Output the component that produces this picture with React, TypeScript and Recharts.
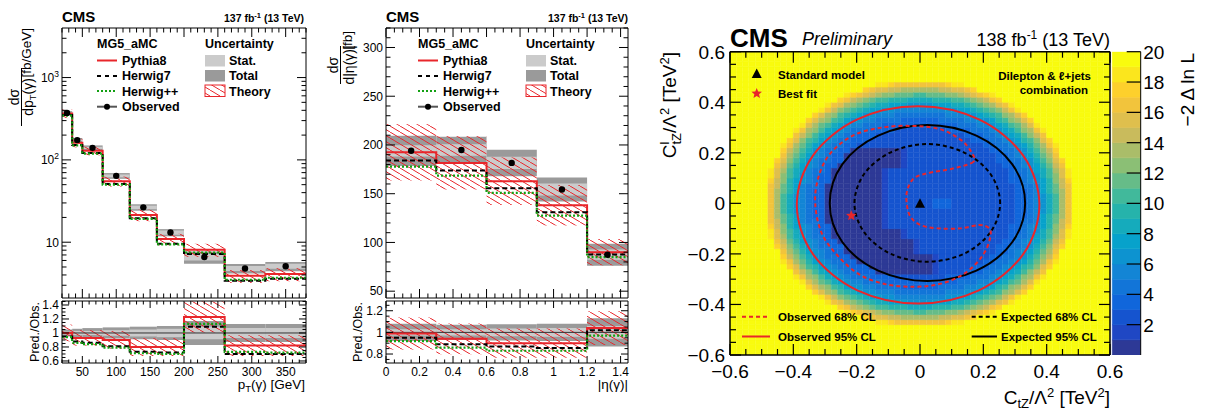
import React from 'react'
import {
  ComposedChart,
  Line,
  Scatter,
  Bar,
  Cell,
  XAxis,
  YAxis,
  ReferenceArea,
  ReferenceLine,
} from 'recharts'

const W = 1207
const H = 412
const FONT = '"Liberation Sans", Arial, Helvetica, sans-serif'
const RED = '#e8262b'
const GREEN = '#12a012'
const STAT = '#cbcbcb'
const TOTAL = '#9a9a9a'

// ---- pT(gamma) distribution: bin edges [GeV], values per bin [fb/GeV]
const ptEdges = [20, 35, 50, 80, 120, 160, 200, 260, 320, 380]
const ptObserved = [372, 174, 140, 64, 26.5, 13.1, 6.6, 4.8, 5.1]
const ptPythia8 = [366, 161, 129, 55, 21.4, 10.9, 8.1, 3.9, 4.1]
const ptHerwig7 = [352, 152, 121, 51, 19.6, 9.6, 7.2, 3.4, 3.6]
const ptHerwigPP = [345, 150, 119, 50, 19.2, 9.4, 7.5, 3.5, 3.7]
const ptStatRel = [0.02, 0.03, 0.03, 0.04, 0.05, 0.06, 0.09, 0.07, 0.07]
const ptTotalRel = [0.05, 0.06, 0.07, 0.08, 0.09, 0.1, 0.17, 0.13, 0.13]
const ptTheoryRel = [0.12, 0.12, 0.12, 0.14, 0.16, 0.16, 0.18, 0.18, 0.18]
const ptRatioPythia8 = [1.0, 0.93, 0.93, 0.9, 0.8, 0.8, 1.23, 0.82, 0.82]
const ptRatioHerwig7 = [0.95, 0.88, 0.86, 0.81, 0.73, 0.72, 1.09, 0.7, 0.7]
const ptRatioHerwigPP = [0.94, 0.86, 0.84, 0.79, 0.71, 0.7, 1.13, 0.73, 0.72]

// ---- |eta(gamma)| distribution: bin edges, values per bin [fb]
const etaEdges = [0, 0.3, 0.6, 0.9, 1.2, 1.4442]
const etaObserved = [194, 194.8, 181.6, 154.3, 87.4]
const etaPythia8 = [192.5, 181.6, 162.8, 138.2, 90]
const etaHerwig7 = [184, 173.7, 155.6, 131, 87.7]
const etaHerwigPP = [177.8, 168.6, 150.9, 127.6, 85]
const etaStatRel = [0.03, 0.03, 0.035, 0.04, 0.06]
const etaTotalRel = [0.08, 0.07, 0.075, 0.08, 0.13]
const etaTheoryRel = [0.15, 0.15, 0.15, 0.15, 0.15]
const etaRatioPythia8 = [0.99, 0.94, 0.9, 0.9, 1.04]
const etaRatioHerwig7 = [0.95, 0.89, 0.87, 0.855, 1.02]
const etaRatioHerwigPP = [0.92, 0.86, 0.83, 0.83, 0.97]

// ---- -2 Delta ln L scan: 60 x 60 cells of 0.02, rows from top (C^l_tZ = 0.59) down.
// One character per cell = colour band (0..9, a..j -> 0..19). Each row is "left|right"
// around C_tZ = 0; cells not written at the outer ends are >= 19 (yellow).
const scanBandColors = [
  '#2d3996', '#1f47c4', '#1554cf', '#1066db', '#1275d8', '#1385d5', '#0d93d0', '#07a2cb', '#15abbc', '#26b3ab',
  '#41b99b', '#66bc88', '#8bbf75', '#aabd69', '#c9bb5c', '#dfbf4d', '#f2c43c', '#fdd02c', '#fbe61d', '#f9fb0e',
]
const scanRows = [
  '|', '|', '|', '|', '|', '|',
  'iihgggg|gggghii',
  'hgffeeddd|dddeeffgh',
  'ihgfedccbbba|abbbccdefghi',
  'hgedcbaa99988|88999aabcdegh',
  'igfdcba98877766|66777889abcdfgi',
  'igecba9877665555|5555667789abcegi',
  'hfdca987665554444|444455566789acdfh',
  'hfdca9766554444333|3334444556679acdfh',
  'ifdba87655444333333|33333344455678abdfi',
  'igdca876544433332222|222233334445678acdgi',
  'geca8765443332222222|2222222333445678aceg',
  'hfca97654433322222222|22222222333445679acfh',
  'igdb976544332222222222|222222222233445679bdgi',
  'heca865443300000000122|222222222223344568aceh',
  'gdb9765433000000000122|2222222222223345679bdg',
  'hfca8654433000000000122|2222222222223344568acfh',
  'geb97654330000000000122|22222222222223345679beg',
  'ifda87544300000000122222|22222222222222344578adfi',
  'ifca86543300000000122222|22222222222222334568acfi',
  'hec976543300000000122222|222222222222223345679ceh',
  'geb975443000000000122222|222222222222222344579beg',
  'gdb975433000000000122222|222222222222222334579bdg',
  'gda865433000000000122222|222222222222222334568adg',
  'gda865433000000000122222|223332222222222334568adg',
  'gda865433000000000122222|223332222222222334568adg',
  'gda865433000000000122222|222222222222222334568adg',
  'gdb975433000000000122222|222222222222222334579bdg',
  'geb975443000000000122222|222222222222222344579beg',
  'hec976543300000000122222|222222222222223345679ceh',
  'ifca86543300000000000122|22222222222222334568acfi',
  'ifda87544300000000000122|22222222222222344578adfi',
  'geb97654330000000000001|22222222222223345679beg',
  'hfca8654433000000000001|2222222222223344568acfh',
  'gdb9765433000000000001|2222222222223345679bdg',
  'heca865443300000000000|001222222223344568aceh',
  'igdb976544330000000000|001222222233445679bdgi',
  'hfca97654433300000000|00122222333445679acfh',
  'geca8765443330000000|0012222333445678aceg',
  'igdca876544433332222|222233334445678acdgi',
  'ifdba87655444333333|33333344455678abdfi',
  'hfdca9766554444333|3334444556679acdfh',
  'hfdca987665554444|444455566789acdfh',
  'igecba9877665555|5555667789abcegi',
  'igfdcba98877766|66777889abcdfgi',
  'hgedcbaa99988|88999aabcdegh',
  'ihgfedccbbba|abbbccdefghi',
  'hgffeeddd|dddeeffgh',
  'iihgggg|gggghii',
  '|', '|', '|', '|', '|', '|',
]
// contours (C_tZ, C^l_tZ)
const observed95 = [
  { x: 0.377, y: -0.006 }, { x: 0.326, y: 0.189 }, { x: 0.186, y: 0.332 }, { x: -0.006, y: 0.384 },
  { x: -0.198, y: 0.332 }, { x: -0.338, y: 0.189 }, { x: -0.389, y: -0.006 }, { x: -0.338, y: -0.201 },
  { x: -0.198, y: -0.344 }, { x: -0.006, y: -0.396 }, { x: 0.186, y: -0.344 }, { x: 0.326, y: -0.201 },
]
const expected95 = [
  { x: 0.332, y: 0 }, { x: 0.291, y: 0.155 }, { x: 0.178, y: 0.268 }, { x: 0.023, y: 0.31 },
  { x: -0.132, y: 0.268 }, { x: -0.245, y: 0.155 }, { x: -0.285, y: 0 }, { x: -0.245, y: -0.154 },
  { x: -0.132, y: -0.266 }, { x: 0.023, y: -0.307 }, { x: 0.178, y: -0.266 }, { x: 0.291, y: -0.154 },
]
const expected68 = [
  { x: 0.253, y: 0 }, { x: 0.222, y: 0.117 }, { x: 0.138, y: 0.202 }, { x: 0.023, y: 0.235 },
  { x: -0.092, y: 0.202 }, { x: -0.176, y: 0.117 }, { x: -0.207, y: 0 }, { x: -0.176, y: -0.115 },
  { x: -0.092, y: -0.2 }, { x: 0.023, y: -0.231 }, { x: 0.138, y: -0.2 }, { x: 0.222, y: -0.115 },
]
const observed68 = [
  { x: 0.169, y: 0.165 }, { x: 0.108, y: 0.139 }, { x: 0.023, y: 0.119 }, { x: -0.019, y: 0.099 },
  { x: -0.04, y: 0.053 }, { x: -0.042, y: 0 }, { x: -0.03, y: -0.053 }, { x: 0.002, y: -0.086 },
  { x: 0.055, y: -0.099 }, { x: 0.129, y: -0.099 }, { x: 0.187, y: -0.086 }, { x: 0.219, y: -0.099 },
  { x: 0.222, y: -0.132 }, { x: 0.208, y: -0.185 }, { x: 0.176, y: -0.24 }, { x: 0.124, y: -0.29 },
  { x: 0.055, y: -0.321 }, { x: -0.019, y: -0.33 }, { x: -0.104, y: -0.321 }, { x: -0.188, y: -0.284 },
  { x: -0.257, y: -0.211 }, { x: -0.31, y: -0.119 }, { x: -0.331, y: 0 }, { x: -0.32, y: 0.106 },
  { x: -0.283, y: 0.198 }, { x: -0.209, y: 0.27 }, { x: -0.114, y: 0.301 }, { x: -0.019, y: 0.306 },
  { x: 0.065, y: 0.293 }, { x: 0.129, y: 0.251 }, { x: 0.161, y: 0.205 },
]
const standardModel = [{ x: 0, y: 0 }]
const bestFit = [{ x: -0.217, y: -0.049 }]

// ---- ticks
const range = (a: number, b: number, s: number) => {
  const out: number[] = []
  for (let v = a; v <= b + 1e-9; v += s) out.push(Math.round(v * 1e6) / 1e6)
  return out
}
const ptMajor = [50, 100, 150, 200, 250, 300, 350]
const ptTicks = range(20, 380, 10)
const ptXsecMajor = [10, 100, 1000]
const ptXsecTicks = [3, 4, 5, 6, 7, 8, 9, 10, 20, 30, 40, 50, 60, 70, 80, 90, 100, 200, 300, 400, 500, 600, 700, 800, 900, 1000, 2000, 3000]
const ptRatioMajor = [0.6, 0.8, 1, 1.2, 1.4]
const ptRatioTicks = range(0.6, 1.45, 0.05)
const etaMajor = [0, 0.2, 0.4, 0.6, 0.8, 1, 1.2, 1.4]
const etaTicks = range(0, 1.4, 0.05)
const etaXsecMajor = [50, 100, 150, 200, 250, 300]
const etaXsecTicks = range(50, 320, 10)
const etaRatioMajor = [0.8, 1, 1.2]
const etaRatioTicks = range(0.75, 1.25, 0.05)
const cMajor = [-0.6, -0.4, -0.2, 0, 0.2, 0.4, 0.6]
const cTicks = range(-0.6, 0.6, 0.05)
const zTicks = [2, 4, 6, 8, 10, 12, 14, 16, 18, 20]

type Box = { left: number; right: number; top: number; bottom: number }
const ptTopBox: Box = { left: 62, right: 306, top: 28, bottom: 298 }
const ptRatioBox: Box = { left: 62, right: 306, top: 301, bottom: 363 }
const etaTopBox: Box = { left: 386, right: 628, top: 28, bottom: 298 }
const etaRatioBox: Box = { left: 386, right: 628, top: 301, bottom: 363 }
const scanBox: Box = { left: 730, right: 1110, top: 51.7, bottom: 355 }
const zBox: Box = { left: 1112.3, right: 1140.7, top: 51.7, bottom: 355 }

const layer: React.CSSProperties = { position: 'absolute', left: 0, top: 0 }
const marginFor = (b: Box) => ({ left: b.left - 1, right: W - b.right - 1, top: b.top - 1, bottom: H - b.bottom - 1 })

type Side = 'bottom' | 'top' | 'left' | 'right'
type TickOpts = {
  majors: number[]
  len: [number, number]
  label?: (v: number) => React.ReactNode
  gap?: number
  size?: number
  width?: number
}

function tickFn(side: Side, o: TickOpts) {
  return (props: any) => {
    const { x, y, payload } = props
    const v = payload.value
    const major = o.majors.some((m) => Math.abs(m - v) < 1e-6)
    const l = major ? o.len[0] : o.len[1]
    const d = side === 'bottom' ? [0, -l] : side === 'top' ? [0, l] : side === 'left' ? [l, 0] : [-l, 0]
    const fs = o.size ?? 12
    const gap = o.gap ?? 4
    let label: React.ReactNode = null
    if (major && o.label) {
      const c = o.label(v)
      const tp = { fontSize: fs, fontFamily: FONT, fill: '#000' }
      if (side === 'bottom') label = <text x={x} y={y + gap + fs * 0.72} textAnchor="middle" {...tp}>{c}</text>
      else if (side === 'left') label = <text x={x - gap} y={y + fs * 0.36} textAnchor="end" {...tp}>{c}</text>
      else if (side === 'right') label = <text x={x + gap} y={y + fs * 0.36} textAnchor="start" {...tp}>{c}</text>
    }
    return (
      <g>
        <line x1={x} y1={y} x2={x + d[0]} y2={y + d[1]} stroke="#000" strokeWidth={o.width ?? 1} />
        {label}
      </g>
    )
  }
}

type FrameOpts = {
  xDomain: [number, number]
  yDomain: [number, number]
  yLog?: boolean
  xTicks: number[]
  yTicks: number[]
  bottom: TickOpts
  top: TickOpts
  left: TickOpts
  right: TickOpts
  lineWidth?: number
}

function frameAxes(f: FrameOpts) {
  const common = {
    tickSize: 0,
    tickMargin: 0,
    tickLine: false,
    axisLine: { stroke: '#000', strokeWidth: f.lineWidth ?? 1 },
    interval: 0 as const,
    allowDataOverflow: true,
  }
  const yScale = f.yLog ? 'log' : 'auto'
  return [
    <XAxis key="xb" xAxisId="b" orientation="bottom" type="number" dataKey="x" domain={f.xDomain} ticks={f.xTicks} height={1} tick={tickFn('bottom', f.bottom)} {...common} />,
    <XAxis key="xt" xAxisId="t" orientation="top" type="number" dataKey="x" domain={f.xDomain} ticks={f.xTicks} height={1} tick={tickFn('top', f.top)} {...common} />,
    <YAxis key="yl" yAxisId="l" orientation="left" type="number" scale={yScale as any} domain={f.yDomain} ticks={f.yTicks} width={1} tick={tickFn('left', f.left)} {...common} />,
    <YAxis key="yr" yAxisId="r" orientation="right" type="number" scale={yScale as any} domain={f.yDomain} ticks={f.yTicks} width={1} tick={tickFn('right', f.right)} {...common} />,
  ]
}

function hatchPattern(id: string) {
  return (
    <pattern id={id} patternUnits="userSpaceOnUse" width={10} height={6}>
      <line x1={-1} y1={-0.6} x2={11} y2={6.6} stroke={RED} strokeWidth={1} />
    </pattern>
  )
}

function stepRows(edges: number[], series: Record<string, number[]>) {
  return edges.map((x, i) => {
    const row: Record<string, number> = { x }
    Object.keys(series).forEach((k) => {
      const vals = series[k]
      row[k] = vals[Math.min(i, vals.length - 1)]
    })
    return row
  })
}

// closed Catmull-Rom curve for the contour lines
function closedCurve(context: any) {
  let pts: number[][] = []
  return {
    areaStart() {},
    areaEnd() {},
    lineStart() {
      pts = []
    },
    point(x: number, y: number) {
      pts.push([x, y])
    },
    lineEnd() {
      const n = pts.length
      if (n < 3) return
      const p = (k: number) => pts[(k + n) % n]
      context.moveTo(p(0)[0], p(0)[1])
      for (let k = 0; k < n; k++) {
        const p0 = p(k - 1)
        const p1 = p(k)
        const p2 = p(k + 1)
        const p3 = p(k + 2)
        context.bezierCurveTo(
          p1[0] + (p2[0] - p0[0]) / 6, p1[1] + (p2[1] - p0[1]) / 6,
          p2[0] - (p3[0] - p1[0]) / 6, p2[1] - (p3[1] - p1[1]) / 6,
          p2[0], p2[1],
        )
      }
      context.closePath()
    },
  }
}

const dotShape = (props: any) => <circle cx={props.cx} cy={props.cy} r={3.2} fill="#000" />

const powLabel = (v: number) => {
  if (v === 10) return '10'
  const e = Math.round(Math.log10(v))
  return (
    <>
      10<tspan dy={-5} fontSize={8.5}>{e}</tspan>
    </>
  )
}
const plainLabel = (v: number) => (Math.abs(v - Math.round(v)) < 1e-9 ? String(Math.round(v)) : v.toFixed(1))
const signedLabel = (v: number) => (Math.abs(v) < 1e-9 ? '0' : v.toFixed(1).replace('-', '\u2212'))

type SpectrumProps = {
  edges: number[]
  observed: number[]
  pythia: number[]
  herwig7: number[]
  herwigpp: number[]
  stat: number[]
  total: number[]
  theory: number[]
  box: Box
  xDomain: [number, number]
  yDomain: [number, number]
  yLog?: boolean
  xTicks: number[]
  xMajor: number[]
  yTicks: number[]
  yMajor: number[]
  yLabel: (v: number) => React.ReactNode
  hatchId: string
}

function SpectrumPanel(p: SpectrumProps) {
  const rows = stepRows(p.edges, { py: p.pythia, h7: p.herwig7, hp: p.herwigpp })
  const points = p.observed.map((v, i) => ({ x: (p.edges[i] + p.edges[i + 1]) / 2, y: v }))
  const ax = { xAxisId: 'b', yAxisId: 'l' }
  return (
    <div style={layer}>
      <ComposedChart width={W} height={H} data={rows} margin={marginFor(p.box)}>
        <defs>{hatchPattern(p.hatchId)}</defs>
        {frameAxes({
          xDomain: p.xDomain,
          yDomain: p.yDomain,
          yLog: p.yLog,
          xTicks: p.xTicks,
          yTicks: p.yTicks,
          bottom: { majors: p.xMajor, len: [9, 4.5] },
          top: { majors: p.xMajor, len: [9, 4.5] },
          left: { majors: p.yMajor, len: [9, 4.5], label: p.yLabel, gap: 3 },
          right: { majors: p.yMajor, len: [9, 4.5] },
        })}
        {p.observed.map((v, i) => (
          <ReferenceArea key={'t' + i} {...ax} x1={p.edges[i]} x2={p.edges[i + 1]} y1={v * (1 - p.total[i])} y2={v * (1 + p.total[i])} fill={TOTAL} fillOpacity={1} stroke="none" ifOverflow="hidden" />
        ))}
        {p.observed.map((v, i) => (
          <ReferenceArea key={'s' + i} {...ax} x1={p.edges[i]} x2={p.edges[i + 1]} y1={v * (1 - p.stat[i])} y2={v * (1 + p.stat[i])} fill={STAT} fillOpacity={1} stroke="none" ifOverflow="hidden" />
        ))}
        {p.pythia.map((v, i) => (
          <ReferenceArea key={'h' + i} {...ax} x1={p.edges[i]} x2={p.edges[i + 1]} y1={v * (1 - p.theory[i])} y2={v * (1 + p.theory[i])} fill={`url(#${p.hatchId})`} fillOpacity={1} stroke="none" ifOverflow="hidden" />
        ))}
        <Line {...ax} dataKey="py" type="stepAfter" stroke={RED} strokeWidth={2} dot={false} activeDot={false} isAnimationActive={false} />
        <Line {...ax} dataKey="h7" type="stepAfter" stroke="#000" strokeWidth={2} strokeDasharray="5 3" dot={false} activeDot={false} isAnimationActive={false} />
        <Line {...ax} dataKey="hp" type="stepAfter" stroke={GREEN} strokeWidth={2.2} strokeDasharray="2 2" dot={false} activeDot={false} isAnimationActive={false} />
        <Scatter {...ax} data={points} dataKey="y" shape={dotShape} isAnimationActive={false} />
      </ComposedChart>
    </div>
  )
}

type RatioProps = {
  edges: number[]
  pythia: number[]
  herwig7: number[]
  herwigpp: number[]
  stat: number[]
  total: number[]
  theory: number[]
  box: Box
  xDomain: [number, number]
  yDomain: [number, number]
  xTicks: number[]
  xMajor: number[]
  xLabel: (v: number) => React.ReactNode
  yTicks: number[]
  yMajor: number[]
  hatchId: string
}

function RatioPanel(p: RatioProps) {
  const rows = stepRows(p.edges, { py: p.pythia, h7: p.herwig7, hp: p.herwigpp })
  const ax = { xAxisId: 'b', yAxisId: 'l' }
  return (
    <div style={layer}>
      <ComposedChart width={W} height={H} data={rows} margin={marginFor(p.box)}>
        <defs>{hatchPattern(p.hatchId)}</defs>
        {frameAxes({
          xDomain: p.xDomain,
          yDomain: p.yDomain,
          xTicks: p.xTicks,
          yTicks: p.yTicks,
          bottom: { majors: p.xMajor, len: [7, 3.5], label: p.xLabel, gap: 4 },
          top: { majors: p.xMajor, len: [7, 3.5] },
          left: { majors: p.yMajor, len: [7, 3.5], label: plainLabel, gap: 3 },
          right: { majors: p.yMajor, len: [7, 3.5] },
        })}
        {p.total.map((t, i) => (
          <ReferenceArea key={'t' + i} {...ax} x1={p.edges[i]} x2={p.edges[i + 1]} y1={1 - t} y2={1 + t} fill={TOTAL} fillOpacity={1} stroke="none" ifOverflow="hidden" />
        ))}
        {p.stat.map((s, i) => (
          <ReferenceArea key={'s' + i} {...ax} x1={p.edges[i]} x2={p.edges[i + 1]} y1={1 - s} y2={1 + s} fill={STAT} fillOpacity={1} stroke="none" ifOverflow="hidden" />
        ))}
        <ReferenceLine {...ax} y={1} stroke="#333" strokeWidth={1} />
        {p.pythia.map((v, i) => (
          <ReferenceArea key={'h' + i} {...ax} x1={p.edges[i]} x2={p.edges[i + 1]} y1={v * (1 - p.theory[i])} y2={v * (1 + p.theory[i])} fill={`url(#${p.hatchId})`} fillOpacity={1} stroke="none" ifOverflow="hidden" />
        ))}
        <Line {...ax} dataKey="py" type="stepAfter" stroke={RED} strokeWidth={2} dot={false} activeDot={false} isAnimationActive={false} />
        <Line {...ax} dataKey="h7" type="stepAfter" stroke="#000" strokeWidth={2} strokeDasharray="5 3" dot={false} activeDot={false} isAnimationActive={false} />
        <Line {...ax} dataKey="hp" type="stepAfter" stroke={GREEN} strokeWidth={2.2} strokeDasharray="2 2" dot={false} activeDot={false} isAnimationActive={false} />
      </ComposedChart>
    </div>
  )
}

function starPath(cx: number, cy: number, R: number) {
  let d = ''
  for (let k = 0; k < 10; k++) {
    const r = k % 2 === 0 ? R : R * 0.45
    const a = -Math.PI / 2 + (k * Math.PI) / 5
    d += (k === 0 ? 'M' : 'L') + (cx + r * Math.cos(a)).toFixed(2) + ' ' + (cy + r * Math.sin(a)).toFixed(2)
  }
  return d + 'Z'
}

const triangleShape = (props: any) => (
  <polygon points={`${props.cx - 5},${props.cy + 4.5} ${props.cx + 5},${props.cy + 4.5} ${props.cx},${props.cy - 5}`} fill="#000" />
)
const starShape = (props: any) => <path d={starPath(props.cx, props.cy, 5.5)} fill={RED} />

const SCAN_HALF = 30
// decode "left|right" rows into full rows of band characters
const scanGrid = scanRows.map((r) => {
  const [l, rr] = r.split('|')
  return (l.padStart(SCAN_HALF, 'j') + rr.padEnd(SCAN_HALF, 'j')).slice(0, 2 * SCAN_HALF)
})

function ScanPanel() {
  const nRows = scanGrid.length
  const columns = Array.from({ length: 2 * SCAN_HALF }, (_, i) => {
    const o: Record<string, number> = { col: i }
    for (let k = 0; k < nRows; k++) o['r' + k] = 1
    return o
  })
  const ax = { xAxisId: 'b', yAxisId: 'l' }
  return (
    <div style={layer}>
      <ComposedChart width={W} height={H} data={columns} margin={marginFor(scanBox)} barCategoryGap={0} barGap={0}>
        {frameAxes({
          xDomain: [-0.6, 0.6],
          yDomain: [-0.6, 0.6],
          xTicks: cTicks,
          yTicks: cTicks,
          lineWidth: 1.5,
          bottom: { majors: cMajor, len: [11, 6], label: signedLabel, gap: 9.5, size: 19, width: 1.2 },
          top: { majors: cMajor, len: [11, 6], width: 1.2 },
          left: { majors: cMajor, len: [11, 6], label: signedLabel, gap: 5, size: 19, width: 1.2 },
          right: { majors: cMajor, len: [11, 6], width: 1.2 },
        })}
        <XAxis xAxisId="cell" dataKey="col" type="category" orientation="top" height={0} hide />
        <YAxis yAxisId="cell" type="number" domain={[0, nRows]} orientation="right" width={0} hide allowDataOverflow />
        {scanGrid.map((_, k) => {
          const row = scanGrid[nRows - 1 - k]
          return (
            <Bar key={'r' + k} xAxisId="cell" yAxisId="cell" dataKey={'r' + k} stackId="scan" isAnimationActive={false}>
              {row.split('').map((ch, i) => {
                const c = scanBandColors[Math.min(19, parseInt(ch, 36))]
                return <Cell key={i} fill={c} stroke={c} strokeWidth={0.6} />
              })}
            </Bar>
          )
        })}
        <Line {...ax} data={observed95} dataKey="y" type={closedCurve as any} stroke={RED} strokeWidth={2} dot={false} activeDot={false} isAnimationActive={false} />
        <Line {...ax} data={expected95} dataKey="y" type={closedCurve as any} stroke="#000" strokeWidth={2} dot={false} activeDot={false} isAnimationActive={false} />
        <Line {...ax} data={expected68} dataKey="y" type={closedCurve as any} stroke="#000" strokeWidth={2} strokeDasharray="4 3" dot={false} activeDot={false} isAnimationActive={false} />
        <Line {...ax} data={observed68} dataKey="y" type={closedCurve as any} stroke={RED} strokeWidth={2} strokeDasharray="4 3" dot={false} activeDot={false} isAnimationActive={false} />
        <Scatter {...ax} data={standardModel} dataKey="y" shape={triangleShape} isAnimationActive={false} />
        <Scatter {...ax} data={bestFit} dataKey="y" shape={starShape} isAnimationActive={false} />
      </ComposedChart>
    </div>
  )
}

function ColorBar() {
  const row: Record<string, number | string> = { name: 'z' }
  scanBandColors.forEach((_, k) => {
    row['b' + k] = 1
  })
  return (
    <div style={layer}>
      <ComposedChart width={W} height={H} data={[row]} margin={{ left: zBox.left, right: W - zBox.right - 1, top: zBox.top, bottom: H - zBox.bottom }} barCategoryGap={0} barGap={0}>
        <XAxis xAxisId="c" dataKey="name" type="category" height={0} hide />
        <YAxis
          yAxisId="z"
          orientation="right"
          type="number"
          domain={[0, 20]}
          ticks={zTicks}
          interval={0}
          width={1}
          tickSize={0}
          tickMargin={0}
          tickLine={false}
          axisLine={{ stroke: '#000', strokeWidth: 1 }}
          allowDataOverflow
          tick={tickFn('right', { majors: zTicks, len: [14, 14], label: plainLabel, gap: 2.5, size: 19, width: 1.2 })}
        />
        {scanBandColors.map((c, k) => (
          <Bar key={k} xAxisId="c" yAxisId="z" dataKey={'b' + k} stackId="z" fill={c} stroke={c} strokeWidth={0.6} isAnimationActive={false} />
        ))}
      </ComposedChart>
    </div>
  )
}

function Header({ x0, x1 }: { x0: number; x1: number }) {
  return (
    <g fontFamily={FONT} fontWeight="bold">
      <text x={x0} y={21.7} fontSize={15}>CMS</text>
      <text x={x1} y={21.7} fontSize={10.5} textAnchor="end">
        137 fb<tspan dy={-4} fontSize={7.5}>-1</tspan>
        <tspan dy={4}> (13 TeV)</tspan>
      </text>
    </g>
  )
}

function ModelLegend({ x }: { x: number }) {
  const u = x + 108
  return (
    <g fontFamily={FONT} fontWeight="bold" fontSize={12.5} fill="#000">
      <text x={x} y={47.8}>MG5_aMC</text>
      <line x1={x} x2={x + 20} y1={60.5} y2={60.5} stroke={RED} strokeWidth={2} />
      <text x={x + 25} y={64.5}>Pythia8</text>
      <line x1={x} x2={x + 20} y1={76} y2={76} stroke="#000" strokeWidth={2} strokeDasharray="4 4" />
      <text x={x + 25} y={80.3}>Herwig7</text>
      <line x1={x} x2={x + 20} y1={91} y2={91} stroke={GREEN} strokeWidth={2} strokeDasharray="2 2" />
      <text x={x + 25} y={95.5}>Herwig++</text>
      <line x1={x} x2={x + 20} y1={106.7} y2={106.7} stroke="#555" strokeWidth={2} />
      <circle cx={x + 10} cy={106.7} r={3} fill="#000" />
      <text x={x + 25} y={111.2}>Observed</text>
      <text x={u} y={47.8}>Uncertainty</text>
      <rect x={u} y={55} width={20} height={11.5} fill={STAT} />
      <text x={u + 24} y={65.2}>Stat.</text>
      <rect x={u} y={70} width={20} height={11.5} fill={TOTAL} />
      <text x={u + 24} y={80.3}>Total</text>
      <rect x={u} y={85} width={20} height={11.5} fill="url(#hatch-legend)" stroke={RED} strokeWidth={1} />
      <text x={u + 24} y={95.5}>Theory</text>
    </g>
  )
}

function Overlay() {
  const rot = (x: number, y: number) => `translate(${x},${y}) rotate(-90)`
  return (
    <svg width={W} height={H} style={{ ...layer, pointerEvents: 'none' }} fontFamily={FONT}>
      <defs>{hatchPattern('hatch-legend')}</defs>
      <Header x0={62} x1={304} />
      <Header x0={386} x1={628} />
      <ModelLegend x={97} />
      <ModelLegend x={418} />

      {/* left panel titles */}
      <g fontSize={14} fill="#000">
        <text transform={rot(19, 97)} textAnchor="middle">dσ</text>
        <line x1={21.5} x2={21.5} y1={68} y2={126} stroke="#000" strokeWidth={1} />
        <text transform={rot(33, 97)} textAnchor="middle">
          dp<tspan dy={3} fontSize={9.5}>T</tspan>
          <tspan dy={-3}>(γ)</tspan>
        </text>
        <text transform={rot(31, 28)} textAnchor="end" fontSize={13.5}>[fb/GeV]</text>
        <text transform={rot(39, 332)} textAnchor="middle" fontSize={12.5}>Pred./Obs.</text>
        <text x={305} y={389} textAnchor="end" fontSize={13.5}>
          p<tspan dy={3} fontSize={9.5}>T</tspan>
          <tspan dy={-3}>(γ) [GeV]</tspan>
        </text>
      </g>

      {/* middle panel titles */}
      <g fontSize={14} fill="#000">
        <text transform={rot(338, 65)} textAnchor="middle">dσ</text>
        <line x1={340.5} x2={340.5} y1={46} y2={84} stroke="#000" strokeWidth={1} />
        <text transform={rot(354, 65)} textAnchor="middle">d|η(γ)|</text>
        <text transform={rot(352, 31)} textAnchor="end" fontSize={13.5}>[fb]</text>
        <text transform={rot(362, 332)} textAnchor="middle" fontSize={12.5}>Pred./Obs.</text>
        <text x={628} y={389} textAnchor="end" fontSize={13.5}>|η(γ)|</text>
      </g>

      {/* scan panel titles */}
      <g fill="#000">
        <text x={730} y={46.5} fontWeight="bold" fontSize={26}>CMS</text>
        <text x={802} y={45} fontStyle="italic" fontSize={18}>Preliminary</text>
        <text x={1110} y={45.5} textAnchor="end" fontSize={18}>
          138 fb<tspan dy={-7} fontSize={12}>-1</tspan>
          <tspan dy={7}> (13 TeV)</tspan>
        </text>
        <text transform={rot(676, 52)} textAnchor="end" fontSize={19}>
          C<tspan dy={-7} fontSize={13}>l</tspan>
          <tspan dy={12} dx={-3} fontSize={13}>tZ</tspan>
          <tspan dy={-5}>/Λ</tspan>
          <tspan dy={-7} fontSize={13}>2</tspan>
          <tspan dy={7}> [TeV</tspan>
          <tspan dy={-7} fontSize={13}>2</tspan>
          <tspan dy={7}>]</tspan>
        </text>
        <text x={1110} y={404} textAnchor="end" fontSize={19}>
          C<tspan dy={4} fontSize={13}>tZ</tspan>
          <tspan dy={-4}>/Λ</tspan>
          <tspan dy={-7} fontSize={13}>2</tspan>
          <tspan dy={7}> [TeV</tspan>
          <tspan dy={-7} fontSize={13}>2</tspan>
          <tspan dy={7}>]</tspan>
        </text>
        <text transform={rot(1194, 53)} textAnchor="end" fontSize={19}>−2 Δ ln L</text>
      </g>

      {/* scan legend */}
      <g fontFamily={FONT} fontWeight="bold" fontSize={11.5} fill="#000">
        <polygon points="751.7,78 761.7,78 756.7,68.5" fill="#000" />
        <text x={778} y={78.5}>Standard model</text>
        <path d={starPath(756.7, 93.5, 5.5)} fill={RED} />
        <text x={778} y={97.8}>Best fit</text>
        <text x={1091} y={79.5} textAnchor="end">Dilepton &amp; ℓ+jets</text>
        <text x={1088} y={93.5} textAnchor="end">combination</text>
        <line x1={742} x2={770} y1={316.7} y2={316.7} stroke={RED} strokeWidth={2} strokeDasharray="4 3" />
        <text x={778} y={321}>Observed 68% CL</text>
        <line x1={742} x2={770} y1={336.5} y2={336.5} stroke={RED} strokeWidth={2} />
        <text x={778} y={341}>Observed 95% CL</text>
        <line x1={971.7} x2={997} y1={316.7} y2={316.7} stroke="#000" strokeWidth={2} strokeDasharray="4 3" />
        <text x={1001} y={321}>Expected 68% CL</text>
        <line x1={971.7} x2={997} y1={336.5} y2={336.5} stroke="#000" strokeWidth={2} />
        <text x={1001} y={341}>Expected 95% CL</text>
      </g>
    </svg>
  )
}

export default function App() {
  return (
    <div style={{ position: 'absolute', left: 0, top: 0, width: W, height: H, background: '#fff', fontFamily: FONT }}>
      <SpectrumPanel
        edges={ptEdges}
        observed={ptObserved}
        pythia={ptPythia8}
        herwig7={ptHerwig7}
        herwigpp={ptHerwigPP}
        stat={ptStatRel}
        total={ptTotalRel}
        theory={ptTheoryRel}
        box={ptTopBox}
        xDomain={[20, 380]}
        yDomain={[2.1, 4000]}
        yLog
        xTicks={ptTicks}
        xMajor={ptMajor}
        yTicks={ptXsecTicks}
        yMajor={ptXsecMajor}
        yLabel={powLabel}
        hatchId="hatch-pt"
      />
      <RatioPanel
        edges={ptEdges}
        pythia={ptRatioPythia8}
        herwig7={ptRatioHerwig7}
        herwigpp={ptRatioHerwigPP}
        stat={ptStatRel}
        total={ptTotalRel}
        theory={ptTheoryRel}
        box={ptRatioBox}
        xDomain={[20, 380]}
        yDomain={[0.571, 1.457]}
        xTicks={ptTicks}
        xMajor={ptMajor}
        xLabel={plainLabel}
        yTicks={ptRatioTicks}
        yMajor={ptRatioMajor}
        hatchId="hatch-pt-ratio"
      />
      <SpectrumPanel
        edges={etaEdges}
        observed={etaObserved}
        pythia={etaPythia8}
        herwig7={etaHerwig7}
        herwigpp={etaHerwigPP}
        stat={etaStatRel}
        total={etaTotalRel}
        theory={etaTheoryRel}
        box={etaTopBox}
        xDomain={[0, 1.4442]}
        yDomain={[43, 320]}
        xTicks={etaTicks}
        xMajor={etaMajor}
        yTicks={etaXsecTicks}
        yMajor={etaXsecMajor}
        yLabel={plainLabel}
        hatchId="hatch-eta"
      />
      <RatioPanel
        edges={etaEdges}
        pythia={etaRatioPythia8}
        herwig7={etaRatioHerwig7}
        herwigpp={etaRatioHerwigPP}
        stat={etaStatRel}
        total={etaTotalRel}
        theory={etaTheoryRel}
        box={etaRatioBox}
        xDomain={[0, 1.4442]}
        yDomain={[0.717, 1.29]}
        xTicks={etaTicks}
        xMajor={etaMajor}
        xLabel={plainLabel}
        yTicks={etaRatioTicks}
        yMajor={etaRatioMajor}
        hatchId="hatch-eta-ratio"
      />
      <ScanPanel />
      <ColorBar />
      <Overlay />
    </div>
  )
}
